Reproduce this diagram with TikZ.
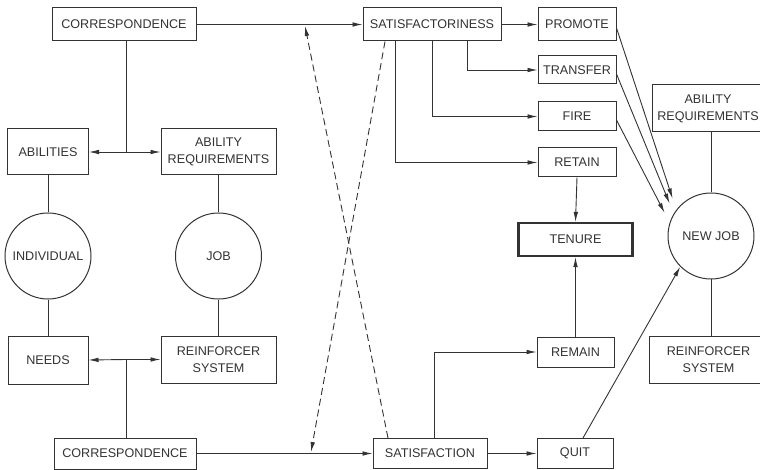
\documentclass[tikz,border=0pt]{standalone}
\usepackage{fontspec}
\setmainfont{Liberation Sans}
\usetikzlibrary{arrows.meta}
\definecolor{ink}{HTML}{333333}
\tikzset{
  box/.style={draw=ink, rectangle, inner sep=0pt, align=center, text=ink,
    line width=1pt, font=\fontsize{12.6}{17}\selectfont},
  ring/.style={draw=ink, circle, inner sep=0pt, minimum size=86pt, text=ink,
    line width=1pt, font=\fontsize{12.6}{17}\selectfont},
  link/.style={draw=ink, line width=0.9pt},
  arr/.style={link, -{Latex[length=10pt,width=4.6pt]}},
  dashlink/.style={arr, dash pattern=on 7pt off 4pt},
}
\begin{document}
\begin{tikzpicture}[x=1pt,y=-1pt]
\clip (0,0) rectangle (760,470);
\fill[white] (0,0) rectangle (760,470);

% left half: individual and job
\node[box, minimum width=144pt, minimum height=33pt] (corrT) at (124,24.5) {CORRESPONDENCE};
\node[box, minimum width=81pt, minimum height=46pt] (ab) at (48,152) {ABILITIES};
\node[box, minimum width=115pt, minimum height=46pt] (abreqL) at (218.5,152) {ABILITY\\REQUIREMENTS};
\node[ring] (indiv) at (48,256) {INDIVIDUAL};
\node[ring] (job) at (218.5,256) {JOB};
\node[box, minimum width=80pt, minimum height=48pt] (needs) at (48,360) {NEEDS};
\node[box, minimum width=115pt, minimum height=47pt] (reinfL) at (218.5,359.5) {REINFORCER\\SYSTEM};
\node[box, minimum width=142pt, minimum height=31pt] (corrB) at (125,453.5) {CORRESPONDENCE};

% middle: outcomes
\node[box, minimum width=138pt, minimum height=33pt] (satory) at (432,24.5) {SATISFACTORINESS};
\node[box, minimum width=114pt, minimum height=30pt] (satis) at (430,453.5) {SATISFACTION};

% right half: decisions and the new job
\node[box, minimum width=78pt, minimum height=33pt] (promote) at (577,24.5) {PROMOTE};
\node[box, minimum width=78pt, minimum height=28pt] (transfer) at (577,70) {TRANSFER};
\node[box, minimum width=78pt, minimum height=29pt] (fire) at (577,116.5) {FIRE};
\node[box, minimum width=78pt, minimum height=29pt] (retain) at (577,162.5) {RETAIN};
\node[box, minimum width=114pt, minimum height=33pt, line width=2.2pt] (tenure) at (575.5,239.5) {TENURE};
\node[box, minimum width=77pt, minimum height=30pt] (remain) at (575.5,352) {REMAIN};
\node[box, minimum width=76pt, minimum height=30pt] (quit) at (575,453.5) {QUIT};
\node[box, minimum width=112pt, minimum height=47pt] (abreqR) at (708,108.5) {ABILITY\\REQUIREMENTS};
\node[ring] (newjob) at (711,236) {NEW JOB};
\node[box, minimum width=119pt, minimum height=47pt] (reinfR) at (708.5,360) {REINFORCER\\SYSTEM};

% junctions of the correspondence links
\coordinate (jt) at (126,152);
\coordinate (jb) at (126,359.5);
\coordinate (xt) at (305,26);
\coordinate (xb) at (311,452);

% correspondence of abilities and requirements
\draw[link] (corrT.south -| jt) -- (jt);
\draw[arr] (jt) -- (ab.east);
\draw[arr] (jt) -- (abreqL.west);
\draw[arr] (corrT.east) -- (satory.west);

% correspondence of needs and reinforcers
\draw[link] (corrB.north -| jb) -- (jb);
\draw[arr] (jb) -- (needs.east);
\draw[arr] (jb) -- (reinfL.west);
\draw[arr] (corrB.east) -- (satis.west);

% person and job structure
\draw[link] (ab.south) -- (indiv.north);
\draw[link] (indiv.south) -- (needs.north);
\draw[link] (abreqL.south) -- (job.north);
\draw[link] (job.south) -- (reinfL.north);
\draw[link] (newjob.north |- abreqR.south) -- (newjob.north);
\draw[link] (newjob.south) -- (newjob.south |- reinfR.north);

% crossing influences
\draw[dashlink] ([xshift=-47pt]satory.south) -- (xb);
\draw[dashlink] ([xshift=-42pt]satis.north) -- (xt);

% satisfactoriness outcomes
\draw[arr] (satory.east) -- (promote.west);
\draw[arr] ([xshift=35pt]satory.south) |- (transfer.west);
\draw[arr] (satory.south) |- (fire.west);
\draw[arr] ([xshift=-37pt]satory.south) |- (retain.west);
\draw[arr] (retain.south) -- (tenure.north);

% satisfaction outcomes
\draw[arr] (satis.east) -- (quit.west);
\draw[arr] ([xshift=4pt]satis.north) |- (remain.west);
\draw[arr] (remain.north) -- (tenure.south);

% moves to a new job
\draw[arr, shorten >=12pt] ([yshift=-3.5pt]promote.east) -- (newjob.143);
\draw[arr, shorten >=11pt] ([yshift=-4pt]transfer.east) -- (newjob.149);
\draw[arr, shorten >=11pt] ([yshift=-3.5pt]fire.east) -- (newjob.162);
\draw[arr] ([xshift=8pt]quit.north) -- (newjob.225);
\end{tikzpicture}
\end{document}
